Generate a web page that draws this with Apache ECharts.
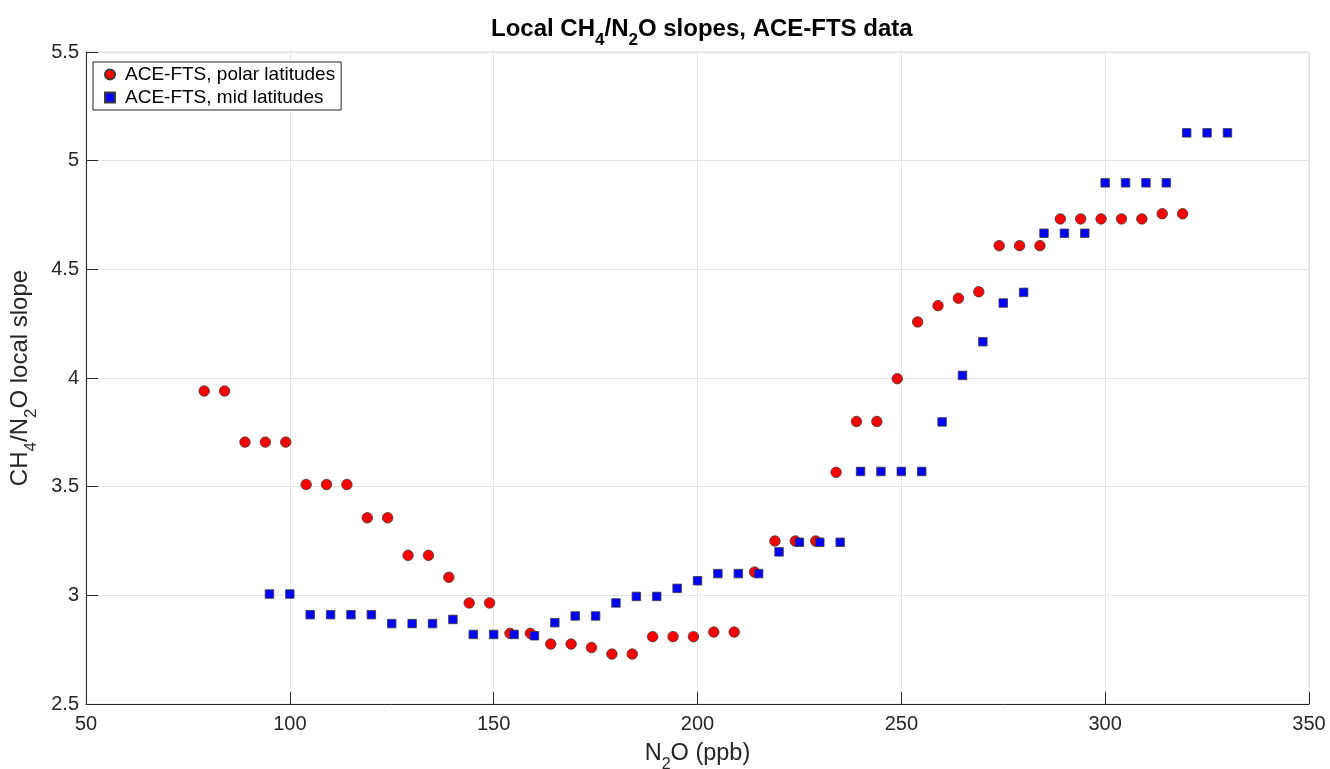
<!DOCTYPE html>
<html>
<head>
<meta charset="utf-8">
<script src="https://cdn.jsdelivr.net/npm/echarts@6/dist/echarts.min.js"></script>
<style>
  html, body { margin: 0; padding: 0; background: #fff; }
  #chart { width: 1330px; height: 769px; }
</style>
</head>
<body>
<div id="chart"></div>
<script>
// N2O (ppb) bins and local CH4/N2O slopes, polar latitudes
const polarN2O = [79, 84, 89, 94, 99, 104, 109, 114, 119, 124, 129, 134, 139, 144, 149, 154, 159,
  164, 169, 174, 179, 184, 189, 194, 199, 204, 209, 214, 219, 224, 229, 234, 239, 244, 249,
  254, 259, 264, 269, 274, 279, 284, 289, 294, 299, 304, 309, 314, 319];
const polarSlope = [3.94, 3.94, 3.705, 3.705, 3.705, 3.51, 3.51, 3.51, 3.357, 3.357, 3.184, 3.184,
  3.083, 2.965, 2.965, 2.825, 2.825, 2.776, 2.776, 2.76, 2.73, 2.73, 2.81, 2.81, 2.81, 2.831, 2.831,
  3.107, 3.25, 3.25, 3.25, 3.566, 3.80, 3.80, 3.997, 4.258, 4.333, 4.367, 4.397, 4.609, 4.609, 4.609,
  4.732, 4.732, 4.732, 4.732, 4.732, 4.756, 4.756];

// N2O (ppb) bins and local CH4/N2O slopes, mid latitudes
const midN2O = [95, 100, 105, 110, 115, 120, 125, 130, 135, 140, 145, 150, 155, 160, 165, 170, 175,
  180, 185, 190, 195, 200, 205, 210, 215, 220, 225, 230, 235, 240, 245, 250, 255, 260, 265, 270,
  275, 280, 285, 290, 295, 300, 305, 310, 315, 320, 325, 330];
const midSlope = [3.006, 3.006, 2.911, 2.911, 2.911, 2.911, 2.870, 2.870, 2.870, 2.889, 2.820, 2.820,
  2.820, 2.814, 2.874, 2.905, 2.905, 2.965, 2.995, 2.995, 3.032, 3.067, 3.100, 3.100, 3.100, 3.200,
  3.244, 3.244, 3.244, 3.570, 3.570, 3.570, 3.570, 3.798, 4.012, 4.167, 4.345, 4.394, 4.666, 4.666,
  4.666, 4.898, 4.898, 4.898, 4.898, 5.128, 5.128, 5.128];

const seriesNames = ['ACE-FTS, polar latitudes', 'ACE-FTS, mid latitudes'];

const FONT = '"Liberation Sans", Arial, Helvetica, sans-serif';
const pairs = (xs, ys) => xs.map((x, i) => [x, ys[i]]);

// rich-text styles used to set chemical subscripts
function subStyles(size, weight, color) {
  return {
    n: { fontSize: size, fontWeight: weight, color: color, fontFamily: FONT, lineHeight: size + 2, verticalAlign: 'top' },
    s: { fontSize: Math.round(size * 0.7), fontWeight: weight, color: color, fontFamily: FONT,
         lineHeight: Math.round(size * 0.7), padding: [Math.round(size * 0.62), 0, 0, 0], verticalAlign: 'top' }
  };
}

const chart = echarts.init(document.getElementById('chart'), null, { renderer: 'canvas' });

chart.setOption({
  animation: false,
  backgroundColor: '#ffffff',
  title: {
    text: '{n|Local CH}{s|4}{n|/N}{s|2}{n|O slopes, ACE-FTS data}',
    left: 486,
    top: 12,
    textStyle: { rich: subStyles(24, 'bold', '#000000') }
  },
  legend: {
    orient: 'vertical',
    left: 93,
    top: 62,
    data: [
      { name: seriesNames[0], icon: 'circle' },
      { name: seriesNames[1], icon: 'rect' }
    ],
    itemWidth: 10,
    itemHeight: 10,
    itemGap: 4,
    padding: [3, 6, 3, 11],
    borderColor: '#262626',
    borderWidth: 1,
    backgroundColor: '#ffffff',
    borderRadius: 0,
    textStyle: { fontFamily: FONT, fontSize: 19, color: '#000000', padding: [0, 0, 0, 5] }
  },
  grid: {
    left: 86, right: 21, top: 52, bottom: 65,
    outerBoundsMode: 'none',
    containLabel: false,
    show: true, borderColor: '#dcdcdc', borderWidth: 1, backgroundColor: 'transparent'
  },
  xAxis: {
    type: 'value',
    min: 50, max: 350, interval: 50,
    name: '{n|N}{s|2}{n|O (ppb)}',
    nameLocation: 'middle',
    nameGap: 38,
    nameTextStyle: { rich: subStyles(23.5, 'normal', '#262626') },
    axisLine: { show: true, onZero: false, lineStyle: { color: '#262626', width: 1 } },
    axisTick: { show: true, inside: true, length: 12, lineStyle: { color: '#262626' } },
    axisLabel: { fontFamily: FONT, fontSize: 20, color: '#262626', margin: 10 },
    splitLine: { show: true, lineStyle: { color: '#e3e3e3', width: 1 } }
  },
  yAxis: {
    type: 'value',
    min: 2.5, max: 5.5, interval: 0.5,
    name: '{n|CH}{s|4}{n|/N}{s|2}{n|O local slope}',
    nameLocation: 'middle',
    nameRotate: 90,
    nameGap: 41,
    nameTextStyle: { rich: subStyles(24, 'normal', '#262626') },
    axisLine: { show: true, onZero: false, lineStyle: { color: '#262626', width: 1 } },
    axisTick: { show: true, inside: true, length: 12, lineStyle: { color: '#262626' } },
    axisLabel: { fontFamily: FONT, fontSize: 20, color: '#262626', margin: 7 },
    splitLine: { show: true, lineStyle: { color: '#e3e3e3', width: 1 } }
  },
  series: [
    {
      name: seriesNames[0],
      type: 'scatter',
      symbol: 'circle',
      symbolSize: 10.5,
      data: pairs(polarN2O, polarSlope),
      itemStyle: { color: '#ff0000', borderColor: '#3a3a3a', borderWidth: 0.8, opacity: 1 },
      z: 3
    },
    {
      name: seriesNames[1],
      type: 'scatter',
      symbol: 'rect',
      symbolSize: 8.5,
      data: pairs(midN2O, midSlope),
      itemStyle: { color: '#0000ff', borderColor: '#3a3a3a', borderWidth: 0.8, opacity: 1 },
      z: 4
    }
  ]
});
</script>
</body>
</html>
